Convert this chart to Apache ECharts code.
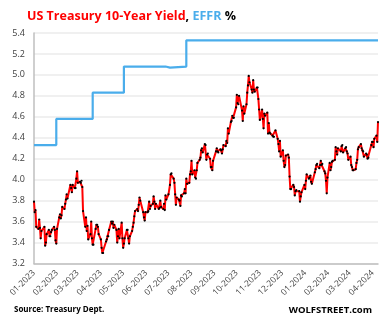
<!DOCTYPE html>
<html><head><meta charset="utf-8">
<script src="https://cdn.jsdelivr.net/npm/echarts@6/dist/echarts.min.js"></script>
<style>html,body{margin:0;padding:0;background:#fff}#c{width:392px;height:323px}</style>
</head><body><div id="c"></div>
<script>
// 10-year Treasury yield, daily
const tenYearDates = [
'2023-01-03','2023-01-04','2023-01-05','2023-01-06','2023-01-09','2023-01-10','2023-01-11','2023-01-12','2023-01-13','2023-01-17','2023-01-18','2023-01-19','2023-01-20','2023-01-23','2023-01-24','2023-01-25','2023-01-26','2023-01-27','2023-01-30','2023-01-31',
'2023-02-01','2023-02-02','2023-02-03','2023-02-06','2023-02-07','2023-02-08','2023-02-09','2023-02-10','2023-02-13','2023-02-14','2023-02-15','2023-02-16','2023-02-17','2023-02-21','2023-02-22','2023-02-23','2023-02-24','2023-02-27','2023-02-28',
'2023-03-01','2023-03-02','2023-03-03','2023-03-06','2023-03-07','2023-03-08','2023-03-09','2023-03-10','2023-03-13','2023-03-14','2023-03-15','2023-03-16','2023-03-17','2023-03-20','2023-03-21','2023-03-22','2023-03-23','2023-03-24','2023-03-27','2023-03-28','2023-03-29','2023-03-30','2023-03-31',
'2023-04-03','2023-04-04','2023-04-05','2023-04-06','2023-04-10','2023-04-11','2023-04-12','2023-04-13','2023-04-14','2023-04-17','2023-04-18','2023-04-19','2023-04-20','2023-04-21','2023-04-24','2023-04-25','2023-04-26','2023-04-27','2023-04-28',
'2023-05-01','2023-05-02','2023-05-03','2023-05-04','2023-05-05','2023-05-08','2023-05-09','2023-05-10','2023-05-11','2023-05-12','2023-05-15','2023-05-16','2023-05-17','2023-05-18','2023-05-19','2023-05-22','2023-05-23','2023-05-24','2023-05-25','2023-05-26','2023-05-30','2023-05-31',
'2023-06-01','2023-06-02','2023-06-05','2023-06-06','2023-06-07','2023-06-08','2023-06-09','2023-06-12','2023-06-13','2023-06-14','2023-06-15','2023-06-16','2023-06-20','2023-06-21','2023-06-22','2023-06-23','2023-06-26','2023-06-27','2023-06-28','2023-06-29','2023-06-30',
'2023-07-03','2023-07-05','2023-07-06','2023-07-07','2023-07-10','2023-07-11','2023-07-12','2023-07-13','2023-07-14','2023-07-17','2023-07-18','2023-07-19','2023-07-20','2023-07-21','2023-07-24','2023-07-25','2023-07-26','2023-07-27','2023-07-28','2023-07-31',
'2023-08-01','2023-08-02','2023-08-03','2023-08-04','2023-08-07','2023-08-08','2023-08-09','2023-08-10','2023-08-11','2023-08-14','2023-08-15','2023-08-16','2023-08-17','2023-08-18','2023-08-21','2023-08-22','2023-08-23','2023-08-24','2023-08-25','2023-08-28','2023-08-29','2023-08-30','2023-08-31',
'2023-09-01','2023-09-05','2023-09-06','2023-09-07','2023-09-08','2023-09-11','2023-09-12','2023-09-13','2023-09-14','2023-09-15','2023-09-18','2023-09-19','2023-09-20','2023-09-21','2023-09-22','2023-09-25','2023-09-26','2023-09-27','2023-09-28','2023-09-29',
'2023-10-02','2023-10-03','2023-10-04','2023-10-05','2023-10-06','2023-10-10','2023-10-11','2023-10-12','2023-10-13','2023-10-16','2023-10-17','2023-10-18','2023-10-19','2023-10-20','2023-10-23','2023-10-24','2023-10-25','2023-10-26','2023-10-27','2023-10-30','2023-10-31',
'2023-11-01','2023-11-02','2023-11-03','2023-11-06','2023-11-07','2023-11-08','2023-11-09','2023-11-10','2023-11-13','2023-11-14','2023-11-15','2023-11-16','2023-11-17','2023-11-20','2023-11-21','2023-11-22','2023-11-24','2023-11-27','2023-11-28','2023-11-29','2023-11-30',
'2023-12-01','2023-12-04','2023-12-05','2023-12-06','2023-12-07','2023-12-08','2023-12-11','2023-12-12','2023-12-13','2023-12-14','2023-12-15','2023-12-18','2023-12-19','2023-12-20','2023-12-21','2023-12-22','2023-12-26','2023-12-27','2023-12-28','2023-12-29',
'2024-01-02','2024-01-03','2024-01-04','2024-01-05','2024-01-08','2024-01-09','2024-01-10','2024-01-11','2024-01-12','2024-01-16','2024-01-17','2024-01-18','2024-01-19','2024-01-22','2024-01-23','2024-01-24','2024-01-25','2024-01-26','2024-01-29','2024-01-30','2024-01-31',
'2024-02-01','2024-02-02','2024-02-05','2024-02-06','2024-02-07','2024-02-08','2024-02-09','2024-02-12','2024-02-13','2024-02-14','2024-02-15','2024-02-16','2024-02-20','2024-02-21','2024-02-22','2024-02-23','2024-02-26','2024-02-27','2024-02-28','2024-02-29',
'2024-03-01','2024-03-04','2024-03-05','2024-03-06','2024-03-07','2024-03-08','2024-03-11','2024-03-12','2024-03-13','2024-03-14','2024-03-15','2024-03-18','2024-03-19','2024-03-20','2024-03-21','2024-03-22','2024-03-25','2024-03-26','2024-03-27','2024-03-28',
'2024-04-01','2024-04-02','2024-04-03','2024-04-04','2024-04-05','2024-04-08','2024-04-09','2024-04-10'
];
const tenYearValues = [
3.79,3.69,3.71,3.55,3.53,3.62,3.54,3.44,3.51,3.55,3.37,3.40,3.48,3.52,3.46,3.46,3.50,3.52,3.55,3.52,
3.42,3.39,3.53,3.64,3.67,3.63,3.66,3.74,3.72,3.77,3.81,3.86,3.82,3.95,3.92,3.88,3.95,3.92,3.92,
4.01,4.08,3.97,3.98,3.97,3.99,3.93,3.70,3.55,3.64,3.51,3.56,3.43,3.48,3.60,3.44,3.38,3.38,3.53,3.57,3.57,3.55,3.48,
3.43,3.35,3.30,3.30,3.41,3.43,3.46,3.46,3.52,3.60,3.58,3.60,3.54,3.57,3.52,3.40,3.46,3.53,3.44,
3.59,3.44,3.35,3.39,3.44,3.52,3.52,3.44,3.39,3.46,3.51,3.55,3.59,3.65,3.70,3.72,3.70,3.76,3.83,3.80,3.69,3.64,
3.61,3.69,3.69,3.70,3.79,3.72,3.75,3.77,3.84,3.79,3.72,3.77,3.72,3.73,3.80,3.74,3.72,3.77,3.71,3.85,3.81,
3.86,3.95,4.05,4.06,4.01,3.97,3.86,3.76,3.83,3.81,3.80,3.75,3.85,3.84,3.87,3.91,3.87,4.01,3.96,3.97,
4.05,4.08,4.18,4.05,4.09,4.02,4.01,4.09,4.16,4.19,4.21,4.28,4.30,4.26,4.34,4.33,4.19,4.24,4.25,4.20,4.12,4.12,4.09,
4.18,4.27,4.30,4.27,4.26,4.29,4.28,4.25,4.29,4.33,4.32,4.37,4.35,4.49,4.44,4.55,4.56,4.61,4.59,4.59,
4.69,4.81,4.73,4.72,4.80,4.66,4.56,4.70,4.63,4.72,4.83,4.90,4.99,4.93,4.86,4.83,4.95,4.86,4.84,4.88,4.88,
4.77,4.67,4.57,4.67,4.58,4.49,4.63,4.61,4.64,4.44,4.54,4.45,4.44,4.42,4.41,4.41,4.47,4.39,4.34,4.27,4.37,
4.22,4.28,4.18,4.12,4.14,4.23,4.24,4.21,4.03,3.91,3.91,3.95,3.93,3.85,3.89,3.90,3.89,3.79,3.84,3.88,
3.95,3.91,3.99,4.05,4.01,4.02,4.04,3.98,3.96,4.07,4.10,4.14,4.15,4.11,4.14,4.18,4.14,4.15,4.08,4.06,3.99,
3.87,4.02,4.16,4.09,4.12,4.17,4.18,4.19,4.31,4.27,4.24,4.30,4.27,4.32,4.33,4.26,4.30,4.31,4.27,4.25,
4.19,4.22,4.14,4.12,4.09,4.09,4.10,4.16,4.19,4.29,4.31,4.34,4.30,4.28,4.27,4.22,4.25,4.24,4.20,4.21,
4.33,4.36,4.36,4.31,4.39,4.42,4.36,4.55
];
// EFFR: value from each date on
const effrDates  = ['2023-01-03','2023-02-02','2023-02-28','2023-03-02','2023-03-23','2023-05-04','2023-06-29','2023-07-05','2023-07-27','2024-04-10'];
const effrValues = [4.33, 4.58, 4.57, 4.58, 4.83, 5.08, 5.07, 5.08, 5.33, 5.33];
// x-axis ticks / labels
const tickDates  = ['2023-01-03','2023-02-03','2023-03-03','2023-04-03','2023-05-03','2023-06-03','2023-07-03','2023-08-03','2023-09-03','2023-10-03','2023-11-03','2023-12-03','2024-01-03','2024-02-03','2024-03-03','2024-04-03'];
const tickLabels = ['01-2023','02-2023','03-2023','04-2023','05-2023','06-2023','07-2023','08-2023','09-2023','10-2023','11-2023','12-2023','01-2024','02-2024','03-2024','04-2024'];

const DAY = 86400000;
const dayNum = s => { const p = s.split('-'); return Math.round(Date.UTC(+p[0], +p[1]-1, +p[2]) / DAY); };
const tickDays = tickDates.map(dayNum);
const labelMap = {}; tickDays.forEach((t,i)=>labelMap[t]=tickLabels[i]);

const chart = echarts.init(document.getElementById('c'), null, {renderer:'canvas'});
const FONT = 'Open Sans, Liberation Sans, sans-serif';
chart.setOption({
  animation:false,
  backgroundColor:'#fff',
  title:{
    text:'{a|US Treasury 10-Year Yield}{b|, }{c|EFFR}{b| %}',
    left:22, top:5,
    textStyle:{rich:{
      a:{color:'#FF0000',fontWeight:'bold',fontSize:12.5,fontFamily:FONT},
      b:{color:'#000',fontWeight:'bold',fontSize:12.5,fontFamily:FONT},
      c:{color:'#4AADEB',fontWeight:'bold',fontSize:12.5,fontFamily:FONT}
    }}
  },
  grid:{left:34, right:14, top:33, bottom:59.5, containLabel:false},
  xAxis:{
    type:'value',
    min:dayNum(tenYearDates[0]), max:dayNum(tenYearDates[tenYearDates.length-1]),
    axisLine:{show:true,lineStyle:{color:'#BFBFBF',width:1.5}},
    axisTick:{show:false},
    splitLine:{show:false},
    axisLabel:{
      customValues:tickDays,
      rotate:45, margin:8, fontSize:8.5, color:'#404040', fontFamily:FONT,
      formatter:v=>labelMap[Math.round(v)]||''
    }
  },
  yAxis:{
    type:'value', min:3.2, max:5.4, interval:0.2,
    axisLine:{show:true,lineStyle:{color:'#BFBFBF',width:1.5}},
    axisTick:{show:false},
    splitLine:{show:true,lineStyle:{color:'#EBEBEB',width:1.5}},
    axisLabel:{fontSize:9, color:'#404040', fontFamily:FONT, margin:9, formatter:v=>v.toFixed(1)}
  },
  series:[
    {
      type:'line', step:'end',
      data:effrDates.map((d,i)=>[dayNum(d),effrValues[i]]),
      showSymbol:false, lineStyle:{color:'#4AADEB',width:2.2}, z:2
    },
    {
      type:'line',
      data:tenYearDates.map((d,i)=>[dayNum(d),tenYearValues[i]]),
      symbol:'circle', symbolSize:2.2, showSymbol:true,
      itemStyle:{color:'#000'},
      lineStyle:{color:'#FF0000',width:2}, z:3
    }
  ],
  graphic:[
    {type:'text', left:14, top:306, style:{text:'Source: Treasury Dept.', fontSize:8, fontWeight:'bold', fill:'#000', fontFamily:FONT}},
    {type:'text', right:20, top:305, style:{text:'WOLFSTREET.com', fontSize:9.5, fontWeight:'bold', fill:'#000', fontFamily:FONT}}
  ]
});
</script></body></html>
